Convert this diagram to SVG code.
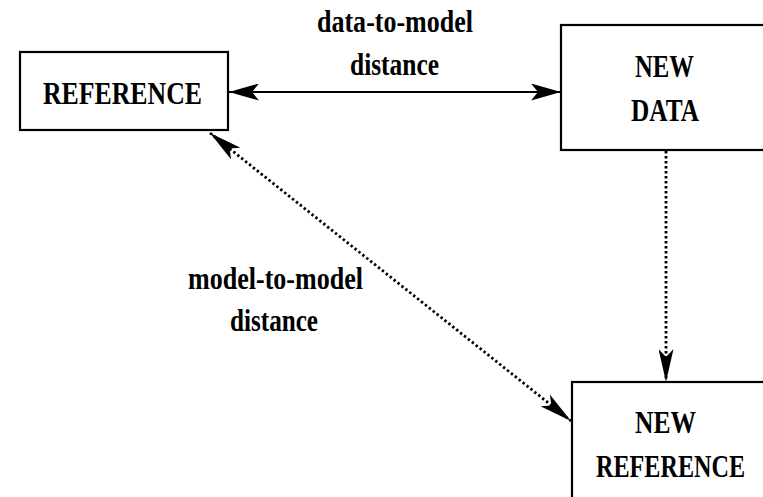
<svg xmlns="http://www.w3.org/2000/svg" width="763" height="497" viewBox="0 0 763 497">
<style>
.box{fill:#fff;stroke:#000;stroke-width:2.2}
.lbl{font-family:"Liberation Serif","Times New Roman",serif;font-weight:bold;font-size:32px;fill:#000}
.solid{stroke:#000;stroke-width:2.2;fill:none}
.dot{stroke:#000;stroke-width:2.8;fill:none;stroke-dasharray:2.4 2.6}
</style>
<defs>
<marker id="ah" markerUnits="userSpaceOnUse" viewBox="0 0 30 17" refX="30" refY="8.5" markerWidth="30" markerHeight="17" orient="auto-start-reverse">
<path d="M0,0 L30,8.5 L0,17 L7,8.5 Z" fill="#000"/>
</marker>
<marker id="ah2" markerUnits="userSpaceOnUse" viewBox="0 0 33 15" refX="33" refY="7.5" markerWidth="33" markerHeight="15" orient="auto-start-reverse">
<path d="M0,0 L33,7.5 L0,15 L8,7.5 Z" fill="#000"/>
</marker>
</defs>
<g id="connectors">
<line class="solid" x1="229" y1="92" x2="561" y2="92" marker-start="url(#ah)" marker-end="url(#ah)"/>
<line class="dot" x1="666" y1="151" x2="666" y2="382" marker-end="url(#ah2)"/>
<line class="dot" x1="210" y1="133" x2="571" y2="421" marker-start="url(#ah2)" marker-end="url(#ah2)"/>
<text class="lbl" x="317" y="32" textLength="156" lengthAdjust="spacingAndGlyphs">data-to-model</text>
<text class="lbl" x="350" y="75" textLength="89" lengthAdjust="spacingAndGlyphs">distance</text>
<text class="lbl" x="188" y="289" textLength="175" lengthAdjust="spacingAndGlyphs">model-to-model</text>
<text class="lbl" x="230" y="331" textLength="88" lengthAdjust="spacingAndGlyphs">distance</text>
</g>
<g id="reference">
<rect class="box" x="20" y="52" width="208" height="78"/>
<text class="lbl" x="43" y="104" textLength="159" lengthAdjust="spacingAndGlyphs">REFERENCE</text>
</g>
<g id="new-data">
<rect class="box" x="561" y="25" width="215" height="125"/>
<text class="lbl" x="635" y="77" textLength="59" lengthAdjust="spacingAndGlyphs">NEW</text>
<text class="lbl" x="631" y="121" textLength="68" lengthAdjust="spacingAndGlyphs">DATA</text>
</g>
<g id="new-reference">
<rect class="box" x="572" y="382" width="205" height="130"/>
<text class="lbl" x="635" y="433" textLength="61" lengthAdjust="spacingAndGlyphs">NEW</text>
<text class="lbl" x="596" y="477" textLength="149" lengthAdjust="spacingAndGlyphs">REFERENCE</text>
</g>
</svg>
